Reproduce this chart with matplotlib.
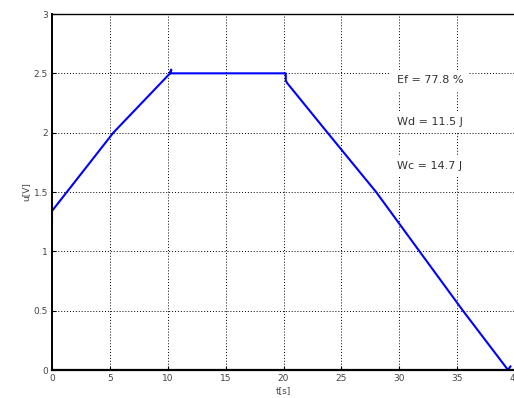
import matplotlib
matplotlib.use("Agg")
import matplotlib.pyplot as plt
from matplotlib import font_manager

# voltage curve u(t)
t = [0.0, 0.0, 5.3, 10.2, 10.3, 10.2, 20.2, 20.2, 20.3, 23.8, 28.0, 35.5, 39.4, 39.6]
u = [1.25, 1.34, 2.0, 2.50, 2.53, 2.50, 2.50, 2.44, 2.42, 2.0, 1.5, 0.5, 0.0, 0.03]

xticks = [0, 5, 10, 15, 20, 25, 30, 35, 40]
yticks = [0, 0.5, 1, 1.5, 2, 2.5, 3]
ytick_labels = ["0", "0.5", "1", "1.5", "2", "2.5", "3"]

notes = ["Ef = 77.8 %", "Wd = 11.5 J", "Wc = 14.7 J"]
note_y = [2.44, 2.09, 1.72]

names = {f.name for f in font_manager.fontManager.ttflist}
fam = "Liberation Sans Narrow" if "Liberation Sans Narrow" in names else "DejaVu Sans"
plt.rcParams["font.family"] = [fam, "DejaVu Sans"]

fig = plt.figure(figsize=(5.14, 3.98), dpi=100)
ax = fig.add_axes([52 / 514, 1 - 370 / 398, 463 / 514, 356 / 398])

ax.plot(t, u, color="#0000ff", lw=1.5)

ax.set_xlim(0, 40)
ax.set_ylim(0, 3)
ax.set_xticks(xticks)
ax.set_yticks(yticks)
ax.set_yticklabels(ytick_labels)
ax.grid(True, color="black", linestyle=(0, (1, 2)), lw=0.7)
ax.tick_params(direction="in", length=3, labelsize=6.5, labelcolor="#444444", pad=3)

for s in ax.spines.values():
    s.set_linewidth(1.0)
ax.spines["bottom"].set_linewidth(1.6)
ax.spines["left"].set_linewidth(1.4)

for txt, y in zip(notes, note_y):
    ax.text(29.8, y, txt, fontsize=8, color="#333333", va="center", ha="left",
            bbox=dict(facecolor="white", edgecolor="none", pad=4))

ax.set_xlabel("t[s]", fontsize=6.5, color="#444444", labelpad=2)
ax.set_ylabel("u[V]", fontsize=6.5, color="#444444", labelpad=2)

fig.savefig("out.png", dpi=100)
